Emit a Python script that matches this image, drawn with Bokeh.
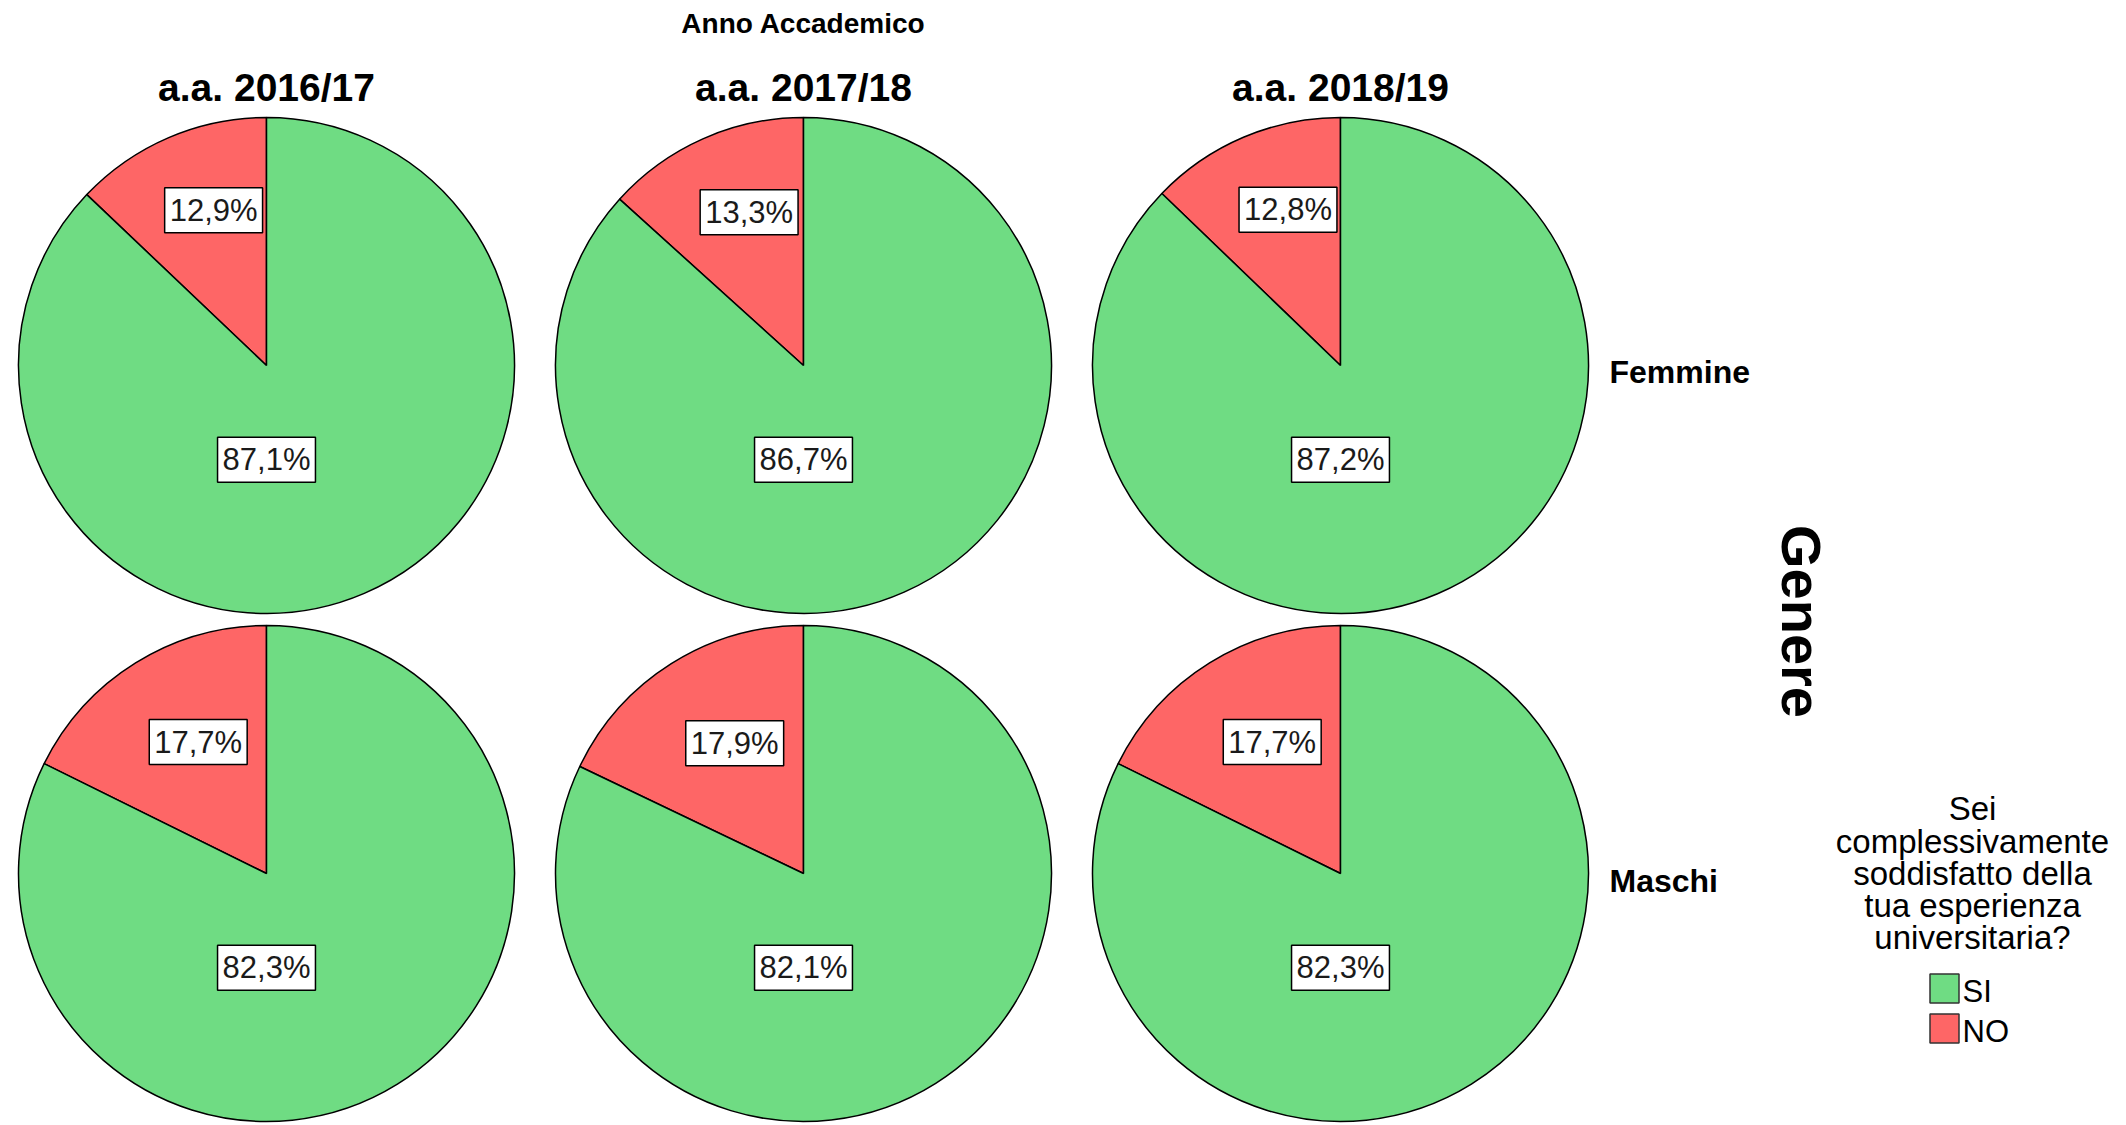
import math
from bokeh.plotting import figure
from bokeh.models import Range1d, ColumnDataSource
from bokeh.core.properties import value
from bokeh.embed import file_html
from bokeh.resources import INLINE

# ---------------- data ----------------
years = ["a.a. 2016/17", "a.a. 2017/18", "a.a. 2018/19"]
genders = ["Femmine", "Maschi"]
answers = ["SI", "NO"]
si_pct = [[87.1, 86.7, 87.2], [82.3, 82.1, 82.3]]
no_pct = [[12.9, 13.3, 12.8], [17.7, 17.9, 17.7]]
col_title = "Anno Accademico"
row_title = "Genere"
legend_title = ["Sei", "complessivamente", "soddisfatto della", "tua esperienza", "universitaria?"]

# ---------------- layout (page pixels) ----------------
W, H = 2110, 1124
FONT = value("Liberation Sans")
GREEN = "#6fdc83"
RED = "#fe6666"
col_x = [266, 803, 1340]
row_y = [365, 873]
R = 248


def Y(py):
    # page y (from top) -> data y
    return 1125 - py


p = figure(width=W, height=H, output_backend="svg", toolbar_location=None,
           x_range=Range1d(0, W), y_range=Range1d(Y(H), Y(0)),
           min_border=0, outline_line_color=None)
p.axis.visible = False
p.grid.visible = False

wx, wy, ws, we, wc = [], [], [], [], []
lx, ly, lt = [], [], []
for r, g in enumerate(genders):
    for c, yr in enumerate(years):
        cx, cy = col_x[c], Y(row_y[r])
        no = no_pct[r][c]
        si = si_pct[r][c]
        a0 = math.pi / 2
        a1 = a0 + no / 100 * 2 * math.pi
        # NO slice
        wx.append(cx); wy.append(cy); ws.append(a0); we.append(a1); wc.append(RED)
        # SI slice
        wx.append(cx); wy.append(cy); ws.append(a1); we.append(a0 + 2 * math.pi); wc.append(GREEN)
        # NO label inside the small sector
        mid = (a0 + a1) / 2 - math.radians(4.4)
        d = R * (0.833 - 1.333 * no / 100)
        lx.append(cx + d * math.cos(mid)); ly.append(cy + d * math.sin(mid))
        lt.append(f"{no:.1f}".replace(".", ",") + "%")
        # SI label below centre
        lx.append(cx); ly.append(cy - 0.38 * R)
        lt.append(f"{si:.1f}".replace(".", ",") + "%")

p.wedge(x="x", y="y", radius=R, start_angle="s", end_angle="e", fill_color="c",
        line_color="black", line_width=1.5,
        source=ColumnDataSource(dict(x=wx, y=wy, s=ws, e=we, c=wc)))

p.text(x="x", y="y", text="t", source=ColumnDataSource(dict(x=lx, y=ly, t=lt)),
       text_align="center", text_baseline="middle", text_font=FONT,
       text_font_size="31px", text_color="#1a1a1a",
       background_fill_color="white", border_line_color="black",
       border_line_width=1.5, padding=5)

# column headers
p.text(x=col_x, y=[Y(87)] * 3, text=years, text_align="center",
       text_baseline="middle", text_font=FONT, text_font_size="39px",
       text_font_style="bold", text_color="black")
p.text(x=[803], y=[Y(23)], text=[col_title], text_align="center",
       text_baseline="middle", text_font=FONT, text_font_size="28px",
       text_font_style="bold", text_color="black")

# row headers
p.text(x=[1609, 1609], y=[Y(371), Y(880)], text=genders, text_align="left",
       text_baseline="middle", text_font=FONT, text_font_size="32px",
       text_font_style="bold", text_color="black")
p.text(x=[1801], y=[Y(621)], text=[row_title], angle=-math.pi / 2,
       text_align="center", text_baseline="middle", text_font=FONT,
       text_font_size="56px", text_font_style="bold", text_color="black")

# legend
centers = [808, 841, 873, 905, 937]
p.text(x=[1972] * len(legend_title), y=[Y(c) for c in centers], text=legend_title,
       text_align="center", text_baseline="middle", text_font=FONT,
       text_font_size="33px", text_color="black")
leg_colors = [GREEN, RED]
leg_cy = [988, 1028]
p.rect(x=[1944] * 2, y=[Y(c) for c in leg_cy], width=29, height=29,
       fill_color=leg_colors, line_color="#333333", line_width=1.5)
p.text(x=[1962] * 2, y=[Y(c + 3) for c in leg_cy], text=answers,
       text_align="left", text_baseline="middle", text_font=FONT,
       text_font_size="31px", text_color="black")

open("out.html", "w").write(file_html(p, INLINE))
